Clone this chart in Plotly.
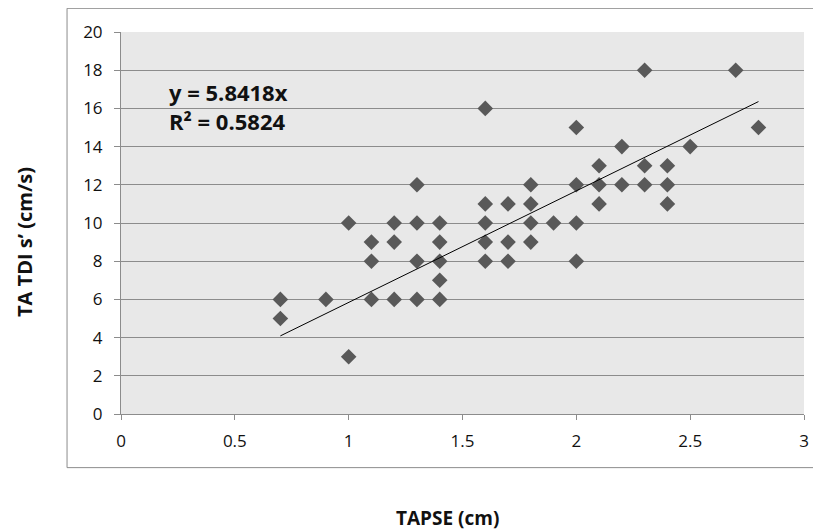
import plotly.graph_objects as go

tapse = [0.7, 0.7, 0.9, 1.0, 1.0, 1.1, 1.1, 1.1, 1.2, 1.2, 1.2, 1.3, 1.3, 1.3, 1.3,
         1.4, 1.4, 1.4, 1.4, 1.4, 1.6, 1.6, 1.6, 1.6, 1.6, 1.7, 1.7, 1.7,
         1.8, 1.8, 1.8, 1.8, 1.9, 2.0, 2.0, 2.0, 2.0, 2.1, 2.1, 2.1, 2.2, 2.2,
         2.3, 2.3, 2.3, 2.4, 2.4, 2.4, 2.5, 2.7, 2.8]
ta_tdi = [6, 5, 6, 10, 3, 9, 8, 6, 10, 9, 6, 12, 10, 8, 6,
          10, 9, 8, 7, 6, 16, 11, 10, 9, 8, 11, 9, 8,
          12, 11, 10, 9, 10, 15, 12, 10, 8, 13, 12, 11, 14, 12,
          18, 13, 12, 13, 12, 11, 14, 18, 15]
slope = 5.8418
r2 = 0.5824
x_ticks = [0, 0.5, 1, 1.5, 2, 2.5, 3]
y_ticks = [0, 2, 4, 6, 8, 10, 12, 14, 16, 18, 20]

trend_x = [min(tapse), max(tapse)]
trend_y = [slope * v for v in trend_x]

fig = go.Figure()
fig.add_trace(go.Scatter(x=tapse, y=ta_tdi, mode="markers",
                         marker=dict(symbol="diamond", size=12, color="#595959"),
                         showlegend=False))
fig.add_trace(go.Scatter(x=trend_x, y=trend_y, mode="lines",
                         line=dict(color="black", width=1), showlegend=False))

font_family = "Open Sans, Lato, sans-serif"
# page body has an 8px offset; plot area targets screen x 121-804, y 32-414
fig.update_layout(
    width=821, height=531,
    margin=dict(l=113, r=25, t=24, b=125),
    paper_bgcolor="white", plot_bgcolor="#e8e8e8",
    font=dict(family=font_family, size=15, color="#111"),
    xaxis=dict(range=[0, 3], tickvals=x_ticks, ticktext=[f"{v:g}" for v in x_ticks],
               showgrid=False, zeroline=False, showline=True, linecolor="#8c8c8c",
               ticks="outside", ticklen=5, tickcolor="#8c8c8c", tickfont=dict(size=17),
               ticklabelstandoff=7),
    yaxis=dict(range=[0, 20], tickvals=y_ticks, showgrid=True, gridcolor="#8c8c8c",
               gridwidth=1, zeroline=False, showline=True, linecolor="#8c8c8c",
               ticks="outside", ticklen=6, tickcolor="#8c8c8c", tickfont=dict(size=17),
               ticklabelstandoff=8),
    shapes=[dict(type="rect", xref="paper", yref="paper", x0=-0.079, x1=1.05,
                 y0=-0.1404, y1=1.062, line=dict(color="#8c8c8c", width=1),
                 fillcolor="rgba(0,0,0,0)", layer="below")],
    annotations=[
        dict(text=f"y = {slope}x<br>R² = {r2}", xref="paper", yref="paper",
             x=0.067, y=(414.3 - 106) / 382.6, xanchor="left", yanchor="middle",
             align="left", showarrow=False,
             font=dict(size=22, color="#111", family=font_family, weight="bold")),
        dict(text="<b>TAPSE (cm)</b>", xref="paper", yref="paper",
             x=(447 - 121) / 683, y=(414.3 - 518) / 382.6, xanchor="center", yanchor="middle",
             showarrow=False, font=dict(size=19, color="#111")),
        dict(text="<b>TA TDI s’ (cm/s)</b>", xref="paper", yref="paper",
             x=(25 - 121) / 683, y=(414.3 - 242) / 382.6, xanchor="center", yanchor="middle",
             textangle=-90, showarrow=False, font=dict(size=20, color="#111")),
    ],
)

fig.write_html("out.html")
